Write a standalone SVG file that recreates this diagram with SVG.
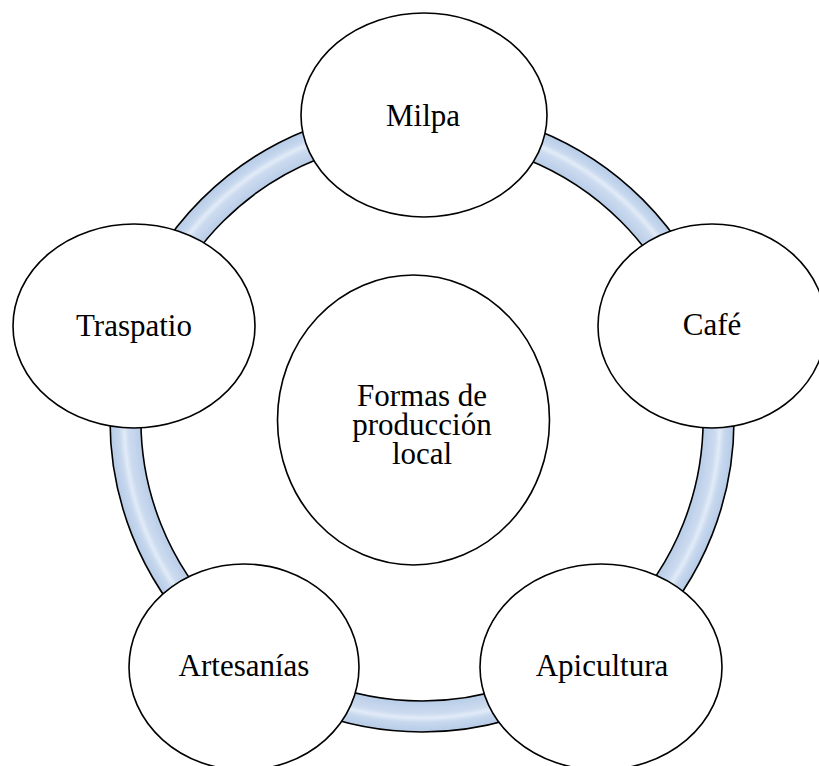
<svg xmlns="http://www.w3.org/2000/svg" width="819" height="766" viewBox="0 0 819 766">
<style>
  .node { fill: #ffffff; stroke: #000000; stroke-width: 1.6; }
  .ring { fill: url(#ringGrad); stroke: #000000; stroke-width: 1.6; fill-rule: evenodd; }
  text { font-family: "Liberation Serif", "Times New Roman", serif; font-size: 31px; fill: #000000; text-anchor: middle; }
</style>
<defs>
  <radialGradient id="ringGrad" gradientUnits="userSpaceOnUse" cx="422" cy="420" r="312">
    <stop offset="0" stop-color="#b9cde8"/>
    <stop offset="0.9" stop-color="#b9cde8"/>
    <stop offset="0.94" stop-color="#cbdaef"/>
    <stop offset="0.955" stop-color="#e2ebf7"/>
    <stop offset="0.97" stop-color="#c7d8ee"/>
    <stop offset="1" stop-color="#b6cbe7"/>
  </radialGradient>
</defs>
<rect width="819" height="766" fill="#ffffff"/>
<g id="connectors">
  <path class="ring" d="M 422 108 A 312 312 0 1 1 422 732 A 312 312 0 1 1 422 108 Z M 422 139 A 281 281 0 1 0 422 701 A 281 281 0 1 0 422 139 Z"/>
</g>
<g id="center">
  <ellipse class="node" cx="413.5" cy="420" rx="136" ry="145"/>
  <text x="422" y="406">Formas de</text>
  <text x="422" y="435">producción</text>
  <text x="422" y="464">local</text>
</g>
<g id="milpa">
  <ellipse class="node" cx="424" cy="115" rx="123" ry="102"/>
  <text x="423" y="126">Milpa</text>
</g>
<g id="cafe">
  <ellipse class="node" cx="712" cy="326" rx="114" ry="102"/>
  <text x="712" y="335">Café</text>
</g>
<g id="apicultura">
  <ellipse class="node" cx="601" cy="667" rx="121" ry="103"/>
  <text x="602" y="676">Apicultura</text>
</g>
<g id="artesanias">
  <ellipse class="node" cx="244" cy="667" rx="115" ry="103"/>
  <text x="244" y="676">Artesanías</text>
</g>
<g id="traspatio">
  <ellipse class="node" cx="134" cy="326" rx="121" ry="102"/>
  <text x="134" y="336">Traspatio</text>
</g>
</svg>
